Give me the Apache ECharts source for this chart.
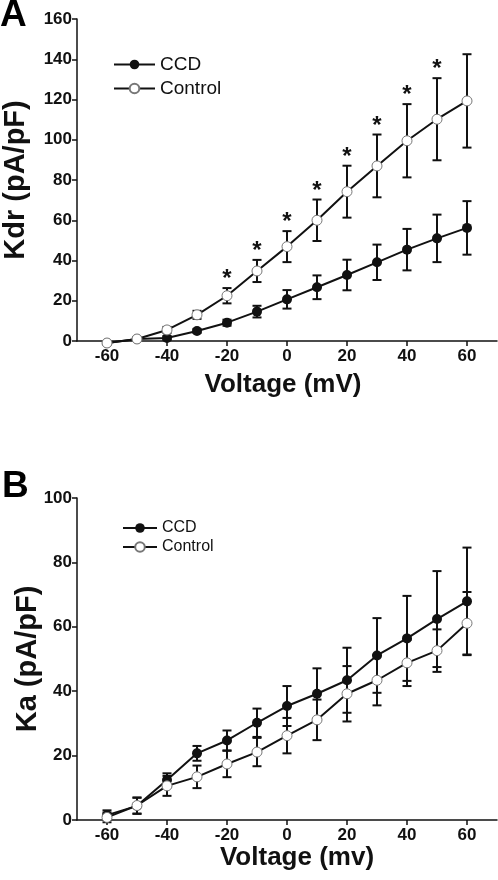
<!DOCTYPE html>
<html><head><meta charset="utf-8">
<script src="https://cdn.jsdelivr.net/npm/echarts@6/dist/echarts.min.js"></script>
<style>html,body{margin:0;padding:0;background:#fff}#c{width:498px;height:880px}</style>
</head><body><div id="c"></div>
<script>
const voltage = [-60,-50,-40,-30,-20,-10,0,10,20,30,40,50,60];
const xTicks = [-60,-40,-20,0,20,40,60];
const kdrCCD = [-1,1,1.5,5,9.1,14.6,20.7,26.7,32.8,39.1,45.4,51,56.2];
const kdrCCDErr = [0.4,0.5,1,1,1.5,2.9,4.6,5.9,7.6,8.8,10.3,11.8,13.3];
const kdrControl = [-1,1,5.5,13,22.5,34.8,46.9,60,74.2,87,99.5,110.2,119.3];
const kdrControlErr = [0.4,1,1.5,2,3.8,5.5,7.7,10.3,12.9,15.6,18.2,20.4,23.2];
const kdrSignificant = [-20,-10,0,10,20,30,40,50];
const kaCCD = [1.5,4.4,12.4,20.7,24.7,30.2,35.4,39.2,43.4,51.1,56.4,62.4,67.9];
const kaCCDErr = [1.5,2.5,2.1,2.3,3.1,4.4,6.2,7.9,10.1,11.6,13.2,14.9,16.7];
const kaControl = [0.8,4.5,10.6,13.4,17.4,21.1,26.2,31.1,39.2,43.4,48.8,52.6,61.1];
const kaControlErr = [1.5,2.5,3.1,3.5,4.1,4.4,5.5,6.3,8.6,7.8,7.2,6.6,9.7];

const FONT = '"Liberation Sans", Arial, sans-serif';
const INK = '#111';
const chart = echarts.init(document.getElementById('c'), null, {renderer:'canvas'});

function errData(vals, errs){ return voltage.map((v,i)=>[v, vals[i]-errs[i], vals[i]+errs[i]]); }
function renderErr(params, api){
  const x = api.value(0);
  const lo = api.coord([x, api.value(1)]);
  const hi = api.coord([x, api.value(2)]);
  const w = 4.5;
  const style = {stroke: INK, lineWidth: 2, fill: null};
  return {type:'group', children:[
    {type:'line', shape:{x1:lo[0],y1:lo[1],x2:hi[0],y2:hi[1]}, style},
    {type:'line', shape:{x1:hi[0]-w,y1:hi[1],x2:hi[0]+w,y2:hi[1]}, style},
    {type:'line', shape:{x1:lo[0]-w,y1:lo[1],x2:lo[0]+w,y2:lo[1]}, style}
  ]};
}
function renderStar(params, api){
  const p = api.coord([api.value(0), api.value(1)]);
  return {type:'text', x:p[0], y:p[1]-8.5,
    style:{text:'*', fill:INK, font:'bold 24px ' + FONT, align:'center', verticalAlign:'middle'}};
}
const starData = kdrSignificant.map(v => {
  const i = voltage.indexOf(v);
  return [v, kdrControl[i] + kdrControlErr[i]];
});

function xAxisCfg(gi, name, gap, pad){
  return {
    gridIndex: gi, type:'value', min:-70, max:70,
    axisLine:{show:true, onZero:false, lineStyle:{color:INK, width:1.5}},
    axisTick:{show:true, customValues:xTicks, length:5, lineStyle:{color:INK, width:1.5}},
    axisLabel:{customValues:xTicks, fontSize:17, fontWeight:'bold', color:INK, fontFamily:FONT, margin:7},
    splitLine:{show:false},
    name:name, nameLocation:'middle', nameGap:gap, nameMoveOverlap:false,
    nameTextStyle:{fontSize:26, fontWeight:'bold', color:INK, fontFamily:FONT, padding:pad}
  };
}
function yAxisCfg(gi, max, name, gap){
  return {
    gridIndex: gi, type:'value', min:0, max:max, interval:20,
    axisLine:{show:true, onZero:false, lineStyle:{color:INK, width:1.5}},
    axisTick:{show:true, length:5, lineStyle:{color:INK, width:1.5}},
    axisLabel:{fontSize:17, fontWeight:'bold', color:INK, fontFamily:FONT, margin:5},
    splitLine:{show:false},
    name:name, nameLocation:'middle', nameGap:gap, nameMoveOverlap:false,
    nameTextStyle:{fontSize:29, fontWeight:'bold', color:INK, fontFamily:FONT}
  };
}
function lineSeries(name, gi, vals, open){
  return {
    name:name, type:'line', xAxisIndex:gi, yAxisIndex:gi,
    data: voltage.map((v,i)=>[v, vals[i]]),
    symbol:'circle', symbolSize:10, clip:false,
    lineStyle:{color:INK, width:2},
    itemStyle: open ? {color:'#fff', borderColor:'#777', borderWidth:1} : {color:INK, borderColor:INK, borderWidth:0},
    emphasis:{disabled:true}, z:3
  };
}
function errSeries(gi, vals, errs){
  return {type:'custom', xAxisIndex:gi, yAxisIndex:gi, data: errData(vals, errs),
    renderItem: renderErr, clip:false, z:2, silent:true};
}

const option = {
  animation:false,
  backgroundColor:'#fff',
  title:[
    {text:'A', left:0, top:-3, padding:0, textStyle:{fontSize:37, fontWeight:'bold', color:'#000', fontFamily:FONT}},
    {text:'B', left:2, top:468, padding:0, textStyle:{fontSize:37, fontWeight:'bold', color:'#000', fontFamily:FONT}}
  ],
  legend:[
    {left:113, top:55, padding:0, orient:'vertical', itemWidth:41, itemHeight:12, itemGap:5,
     data:['CCD','Control'], textStyle:{fontSize:19, color:INK, fontFamily:FONT}, selectedMode:false},
    {left:122, top:520, padding:0, orient:'vertical', itemWidth:34, itemHeight:12, itemGap:3,
     data:['CCD','Control'], textStyle:{fontSize:16, color:INK, fontFamily:FONT}, selectedMode:false}
  ],
  grid:[
    {left:77, right:1, top:19, height:322, outerBoundsMode:'none', containLabel:false},
    {left:77, right:1, top:498, height:322, outerBoundsMode:'none', containLabel:false}
  ],
  xAxis:[ xAxisCfg(0, 'Voltage (mV)', 31, [0,8,0,0]), xAxisCfg(1, 'Voltage (mv)', 25, [0,0,0,20]) ],
  yAxis:[ yAxisCfg(0, 160, 'Kdr (pA/pF)', 47), yAxisCfg(1, 100, 'Ka (pA/pF)', 35) ],
  series:[
    errSeries(0, kdrCCD, kdrCCDErr),
    errSeries(0, kdrControl, kdrControlErr),
    lineSeries('CCD', 0, kdrCCD, false),
    lineSeries('Control', 0, kdrControl, true),
    {type:'custom', xAxisIndex:0, yAxisIndex:0, data:starData, renderItem:renderStar, clip:false, z:4, silent:true},
    errSeries(1, kaCCD, kaCCDErr),
    errSeries(1, kaControl, kaControlErr),
    lineSeries('CCD', 1, kaCCD, false),
    lineSeries('Control', 1, kaControl, true)
  ]
};
chart.setOption(option);
</script></body></html>
